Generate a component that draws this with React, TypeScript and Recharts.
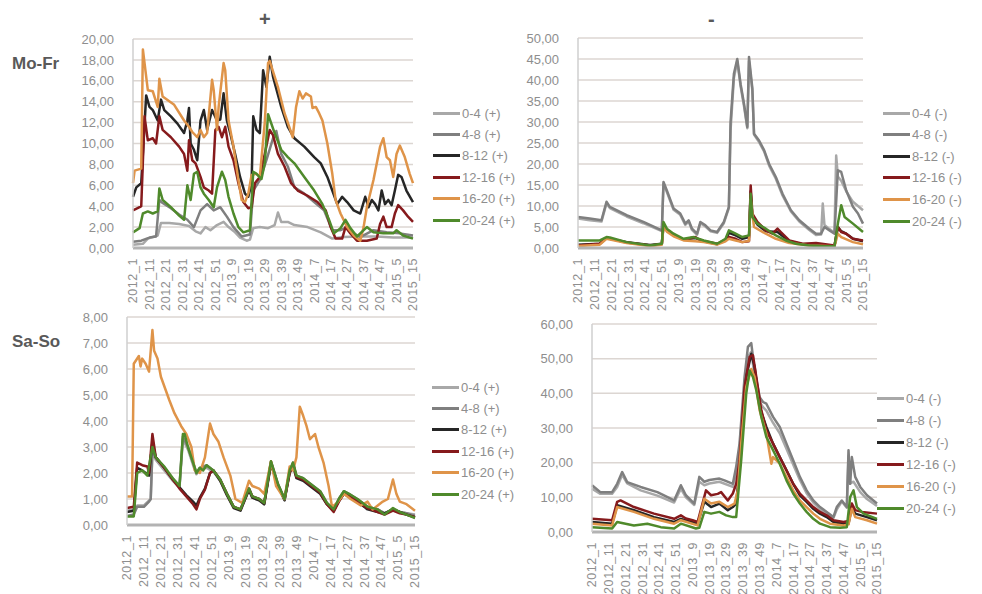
import React from 'react';
import { LineChart, Line, XAxis, YAxis, CartesianGrid } from 'recharts';

type Pt = [number, number];

// x positions are week indices 0..170 (2012_1 .. 2015_15)
const weekTicks = [0, 10, 20, 30, 40, 50, 60, 70, 80, 90, 100, 110, 120, 130, 140, 150, 160, 170];
const weekLabels = [
  '2012_1', '2012_11', '2012_21', '2012_31', '2012_41', '2012_51', '2013_9', '2013_19', '2013_29',
  '2013_39', '2013_49', '2014_7', '2014_17', '2014_27', '2014_37', '2014_47', '2015_5', '2015_15',
];
const ageGroups = ['0-4', '4-8', '8-12', '12-16', '16-20', '20-24'];
const groupColors = ['#a8a8a8', '#7f7f7f', '#262626', '#861a1c', '#df9449', '#4f8a2b'];

// Mo-Fr (+)
const moFrPlus0_4: Pt[] = [[0,0.3],[6,0.4],[9,0.9],[13,1.1],[15,1.2],[17,2.4],[22,2.4],[28,2.3],[34,2.1],[38,1.6],[41,1.4],[44,2.0],[47,1.7],[51,2.2],[55,2.5],[58,2.0],[62,1.5],[65,1.0],[69,0.7],[71,0.8],[73,1.9],[77,2.0],[82,1.9],[86,2.2],[88,3.4],[90,2.5],[94,2.5],[98,2.2],[106,2.0],[114,1.5],[121,0.9],[128,1.05],[138,1.1],[148,1.1],[158,1.0],[170,1.0]];
const moFrPlus4_8: Pt[] = [[0,0.6],[5,0.7],[10,1.0],[14,1.1],[16,4.6],[18,4.3],[23,3.8],[28,3.2],[33,2.7],[37,2.0],[41,3.6],[45,4.2],[49,3.6],[53,3.9],[57,3.0],[61,2.0],[66,1.1],[71,1.3],[73,5.5],[77,6.5],[81,8.4],[85,10.5],[87,11.2],[90,9.0],[94,7.8],[98,5.8],[104,5.2],[110,4.4],[116,3.6],[121,1.7],[126,1.7],[130,2.0],[134,1.4],[138,1.05],[146,1.7],[154,1.5],[162,1.4],[170,1.2]];
const moFrPlus8_12: Pt[] = [[0,4.9],[2,5.8],[5,6.2],[8,14.6],[10,13.5],[12,13.2],[15,12.2],[17,14.2],[19,13.2],[23,12.6],[27,11.9],[31,11.0],[33,12.2],[34,13.4],[35,10.0],[37,9.4],[39,8.4],[41,12.2],[43,13.2],[45,11.3],[48,13.2],[51,12.2],[53,12.3],[55,14.8],[57,12.2],[59,11.0],[62,9.0],[65,6.8],[68,5.2],[70,4.9],[72,6.2],[73,12.6],[75,11.3],[77,11.0],[79,17.0],[81,15.4],[83,18.3],[85,16.4],[90,13.5],[94,11.6],[98,10.5],[104,9.7],[110,8.7],[114,8.1],[118,6.8],[121,5.5],[124,4.2],[127,4.9],[130,4.4],[134,3.6],[138,3.3],[141,4.9],[143,3.9],[145,4.6],[147,4.2],[149,3.6],[151,5.5],[153,4.2],[155,4.6],[157,4.1],[159,5.5],[161,7.0],[163,6.8],[166,5.5],[170,4.4]];
const moFrPlus12_16: Pt[] = [[0,3.6],[4,3.9],[5,4.0],[7,12.6],[9,10.3],[12,10.5],[14,10.0],[16,12.6],[18,11.3],[23,10.6],[28,9.7],[31,9.0],[33,7.4],[34,10.3],[36,8.4],[38,8.1],[41,6.8],[43,5.8],[46,5.5],[48,5.2],[50,11.3],[52,11.6],[54,10.6],[56,11.6],[58,9.7],[61,8.4],[64,6.2],[67,4.4],[70,3.8],[72,3.9],[74,6.2],[77,6.8],[80,9.0],[83,11.3],[85,10.8],[88,9.0],[92,7.8],[96,6.2],[100,5.5],[106,5.0],[112,4.4],[117,3.6],[120,2.0],[123,0.9],[127,0.9],[129,2.0],[132,1.4],[136,0.7],[142,0.7],[148,0.9],[150,2.3],[152,3.0],[154,2.0],[157,2.0],[159,3.3],[161,4.1],[164,3.6],[167,3.0],[170,2.5]];
const moFrPlus16_20: Pt[] = [[0,6.2],[1,7.4],[5,7.6],[6,19.0],[9,15.1],[12,15.0],[15,13.5],[16,16.2],[18,14.5],[25,13.7],[31,12.2],[34,11.6],[36,11.1],[39,10.6],[41,11.3],[43,10.6],[45,11.0],[48,16.1],[49,15.1],[51,11.3],[52,13.5],[55,17.7],[56,17.0],[58,12.2],[61,9.7],[64,6.5],[66,4.6],[68,4.4],[70,5.2],[72,7.0],[75,7.1],[77,6.8],[80,12.0],[82,17.7],[83,17.9],[88,15.4],[92,12.9],[97,10.6],[99,13.5],[101,15.0],[103,14.3],[105,14.8],[108,14.5],[109,13.4],[111,13.5],[113,12.9],[115,12.2],[118,10.0],[121,7.1],[123,4.6],[126,3.3],[130,2.0],[134,1.2],[138,0.7],[140,2.0],[142,3.9],[146,6.5],[150,9.7],[152,10.5],[154,8.7],[156,8.4],[158,6.8],[160,9.0],[162,9.8],[165,8.7],[168,7.1],[170,6.2]];
const moFrPlus20_24: Pt[] = [[0,1.5],[4,1.9],[6,3.3],[9,3.5],[12,3.3],[15,3.5],[16,5.7],[18,4.6],[23,3.9],[28,3.1],[31,2.7],[33,6.0],[35,4.6],[37,7.1],[39,7.3],[41,5.8],[43,5.2],[46,4.6],[49,3.9],[51,5.8],[54,7.3],[56,6.5],[58,4.9],[61,3.3],[64,2.0],[67,1.5],[71,1.7],[73,7.3],[75,7.1],[78,6.6],[80,8.1],[82,12.8],[86,11.0],[90,9.4],[94,8.7],[98,8.1],[104,6.8],[110,5.5],[115,4.2],[119,2.7],[122,1.4],[126,1.9],[129,2.7],[132,1.9],[136,1.1],[142,2.0],[146,1.5],[152,1.4],[158,1.4],[160,1.7],[164,1.2],[170,0.9]];

// Mo-Fr (-)
const moFrMinus0_4: Pt[] = [[0,7.0],[7,6.6],[14,6.3],[17,10.6],[19,9.5],[29,7.5],[39,5.9],[50,4.0],[51,15.3],[53,13.3],[57,9.1],[61,7.9],[64,5.5],[66,6.3],[68,4.3],[71,3.1],[73,5.9],[76,5.1],[79,4.0],[83,3.6],[87,5.9],[90,9.5],[91,28],[93,40.5],[95,44.5],[97,38.5],[99,33.8],[101,28.5],[102,44.5],[104,37.5],[105,27],[108,25.2],[111,23],[114,19.6],[118,16.5],[122,12.5],[127,8.7],[132,6.3],[138,4.3],[142,3.1],[145,3.2],[146,10.6],[147,5.5],[150,4.5],[153,3.6],[154,22],[155,17],[157,16],[160,13.5],[164,11],[167,10],[170,9.0]];
const moFrMinus4_8: Pt[] = [[0,7.4],[7,7.0],[14,6.6],[17,11.0],[19,9.8],[29,7.8],[39,6.2],[50,4.2],[51,15.7],[53,13.7],[57,9.4],[61,8.2],[64,5.8],[66,6.6],[68,4.6],[71,3.4],[73,6.2],[76,5.4],[79,4.2],[83,3.8],[87,6.2],[90,9.8],[91,30],[93,41.5],[95,45],[97,39],[99,34.4],[101,28.8],[102,45.5],[104,38],[105,27.2],[108,25.6],[111,23.3],[114,20],[118,16.9],[122,12.9],[127,9.0],[132,6.6],[138,4.6],[142,3.4],[145,3.4],[147,5.0],[150,4.2],[153,3.4],[155,18.5],[157,18.1],[160,13.7],[164,9.8],[167,8.2],[170,5.8]];
const moFrMinus8_12: Pt[] = [[0,0.8],[13,1.0],[17,2.4],[29,1.4],[43,0.7],[50,1.0],[51,5.5],[53,4.2],[57,3.2],[63,2.0],[70,2.4],[75,1.6],[83,0.9],[88,1.9],[90,3.6],[94,3.0],[98,2.2],[102,2.6],[103,13.5],[104,7.4],[107,5.6],[112,4.0],[119,3.8],[126,1.6],[134,0.9],[142,0.8],[153,0.5],[155,5.0],[157,4.0],[160,3.4],[164,2.2],[170,1.6]];
const moFrMinus12_16: Pt[] = [[0,0.6],[13,1.0],[17,2.4],[29,1.3],[43,0.6],[50,0.9],[51,5.6],[53,4.3],[57,3.2],[63,2.0],[70,2.6],[72,2.0],[75,1.7],[83,1.0],[88,2.0],[90,2.6],[94,2.2],[98,1.4],[102,1.6],[103,14.9],[104,8.2],[107,6.2],[112,4.2],[116,3.4],[119,4.6],[121,3.8],[126,1.8],[134,1.0],[142,1.2],[153,0.6],[155,5.0],[157,3.8],[160,3.4],[164,2.2],[170,1.8]];
const moFrMinus16_20: Pt[] = [[0,0.5],[13,0.8],[17,2.2],[29,1.2],[43,0.5],[50,0.8],[51,5.0],[53,3.9],[57,2.8],[63,1.8],[70,1.6],[75,1.4],[83,0.8],[88,1.6],[90,2.2],[94,1.8],[98,1.4],[102,1.7],[103,11.5],[105,5.0],[112,3.4],[118,2.2],[126,1.2],[138,0.6],[153,0.4],[155,3.4],[157,2.6],[164,1.4],[170,0.9]];
const moFrMinus20_24: Pt[] = [[0,1.8],[13,1.8],[17,2.6],[19,2.5],[29,1.4],[43,0.6],[50,1.0],[51,6.2],[53,4.6],[57,3.4],[63,2.2],[69,2.6],[75,1.8],[83,1.0],[88,2.2],[90,4.2],[94,3.4],[98,2.6],[102,3.0],[103,12.9],[104,7.4],[107,5.8],[112,4.6],[118,3.0],[124,1.8],[130,1.0],[138,0.6],[146,0.4],[153,0.4],[155,5.8],[157,10.2],[159,7.4],[164,5.8],[170,3.8]];

// Sa-So (+)
const saSoPlus0_4: Pt[] = [[0,0.55],[4,0.6],[6,0.75],[10,0.75],[14,1.0],[15,2.8],[17,2.5],[22,2.1],[27,1.7],[31,1.45],[33,3.3],[36,2.9],[39,2.3],[41,1.95],[43,2.15],[47,2.2],[51,2.05],[55,1.7],[59,1.15],[63,0.7],[67,0.6],[72,1.35],[74,1.05],[78,0.95],[81,0.8],[85,2.4],[89,1.55],[93,0.95],[96,2.05],[98,2.35],[100,1.85],[104,1.75],[108,1.55],[114,1.25],[118,0.8],[122,0.6],[125,0.95],[128,1.25],[131,1.15],[136,0.95],[142,0.7],[148,0.6],[152,0.45],[157,0.6],[161,0.5],[165,0.45],[170,0.4]];
const saSoPlus4_8: Pt[] = [[0,0.35],[4,0.4],[6,0.7],[10,0.7],[13,0.9],[14,1.0],[15,2.9],[17,2.6],[22,2.2],[27,1.8],[31,1.5],[33,3.4],[36,3.0],[39,2.4],[41,2.0],[43,2.2],[47,2.3],[51,2.1],[55,1.75],[59,1.2],[63,0.7],[67,0.6],[72,1.4],[74,1.1],[78,1.0],[81,0.85],[85,2.45],[89,1.6],[93,1.0],[96,2.1],[98,2.4],[100,1.9],[104,1.8],[108,1.6],[114,1.3],[118,0.85],[122,0.6],[125,1.0],[128,1.3],[131,1.2],[136,1.0],[142,0.7],[148,0.6],[152,0.45],[157,0.6],[161,0.5],[165,0.45],[170,0.35]];
const saSoPlus8_12: Pt[] = [[0,0.5],[4,0.55],[6,2.2],[9,2.1],[13,1.9],[15,3.2],[17,2.6],[22,2.2],[27,1.75],[31,1.45],[35,1.15],[39,0.9],[41,0.75],[43,1.05],[46,1.4],[49,2.0],[51,2.1],[55,1.7],[59,1.15],[63,0.65],[67,0.55],[72,1.35],[74,1.05],[78,0.95],[81,0.8],[85,2.35],[89,1.5],[93,0.95],[96,2.0],[98,2.3],[100,1.8],[104,1.7],[108,1.5],[114,1.2],[118,0.8],[122,0.55],[125,0.9],[128,1.2],[131,1.1],[136,0.9],[142,0.6],[148,0.5],[152,0.45],[157,0.6],[161,0.5],[165,0.4],[170,0.3]];
const saSoPlus12_16: Pt[] = [[0,0.65],[4,0.7],[6,2.4],[9,2.3],[12,2.25],[13,2.0],[15,3.5],[17,2.6],[22,2.2],[27,1.75],[31,1.4],[35,1.1],[39,0.8],[41,0.6],[43,1.0],[46,1.36],[49,2.0],[51,2.1],[55,1.75],[59,1.2],[63,0.7],[67,0.6],[72,1.4],[74,1.1],[78,1.0],[81,0.85],[85,2.4],[89,1.55],[93,1.0],[96,2.0],[98,2.35],[100,1.85],[104,1.75],[108,1.55],[114,1.25],[118,0.8],[122,0.5],[125,0.9],[128,1.2],[131,1.1],[136,0.9],[142,0.65],[148,0.5],[152,0.4],[157,0.55],[161,0.45],[165,0.4],[170,0.3]];
const saSoPlus16_20: Pt[] = [[0,1.1],[3,1.1],[4,6.2],[7,6.5],[8,6.1],[9,6.4],[11,6.2],[13,5.9],[15,7.5],[16,6.7],[18,6.4],[20,5.7],[25,4.8],[28,4.3],[32,3.8],[35,3.5],[38,3.0],[40,2.1],[43,2.0],[46,2.6],[49,3.9],[51,3.5],[54,3.2],[57,2.6],[61,1.9],[64,1.0],[68,0.85],[72,1.7],[74,1.5],[78,1.4],[81,1.2],[85,2.45],[88,1.5],[93,1.0],[96,2.25],[98,2.1],[100,2.6],[102,4.55],[104,4.2],[106,3.8],[108,3.3],[111,3.5],[113,3.0],[116,2.4],[119,1.5],[121,0.7],[124,0.85],[128,1.2],[132,1.0],[138,0.75],[142,0.9],[145,0.6],[148,0.75],[151,0.9],[154,1.0],[157,1.75],[159,1.2],[161,0.9],[165,0.8],[170,0.55]];
const saSoPlus20_24: Pt[] = [[0,0.33],[4,0.33],[6,2.0],[9,2.1],[12,1.9],[15,3.0],[17,2.6],[22,2.25],[27,1.8],[31,1.5],[33,3.5],[34,3.5],[36,3.0],[39,2.4],[41,2.0],[43,2.2],[45,2.1],[47,2.3],[51,2.1],[55,1.75],[59,1.2],[63,0.7],[67,0.6],[72,1.4],[74,1.1],[78,1.0],[81,0.85],[85,2.45],[89,1.6],[93,1.0],[96,2.1],[98,2.4],[100,1.9],[104,1.8],[108,1.6],[114,1.3],[118,0.85],[122,0.6],[125,1.0],[128,1.3],[131,1.2],[136,1.0],[142,0.7],[148,0.6],[152,0.4],[157,0.65],[161,0.5],[165,0.4],[170,0.27]];

// Sa-So (-)
const saSoMinus0_4: Pt[] = [[0,12.5],[5,11.0],[12,11.0],[15,13.0],[18,16.5],[21,14.0],[29,12.0],[39,10.5],[49,8.5],[53,12.5],[56,10.0],[61,7.8],[64,14.5],[67,13.5],[70,14.0],[76,14.5],[84,13.0],[86,17.5],[88,24],[91,42],[93,50.5],[95,52],[97,45],[100,37.5],[102,36],[104,35],[108,31.5],[112,28.5],[116,24],[120,19.5],[124,15],[128,11.2],[132,8.5],[136,6.6],[140,5.3],[144,4.0],[146,6.5],[149,8.8],[152,7.0],[153,22],[154,14],[156,14.5],[160,11.5],[164,9.5],[170,7.5]];
const saSoMinus4_8: Pt[] = [[0,13.5],[5,11.5],[12,11.5],[15,13.9],[18,17.3],[21,14.4],[29,13.0],[39,11.5],[49,9.1],[53,13.5],[56,10.6],[61,8.2],[64,15.9],[67,14.5],[70,15.0],[76,15.4],[79,14.9],[84,13.9],[86,18.8],[88,25.5],[91,44.7],[93,53.4],[95,54.5],[97,46.6],[100,38.9],[102,37.5],[104,37.0],[108,33.2],[112,30.3],[116,25.5],[120,20.7],[124,15.9],[128,12.0],[132,9.1],[136,7.2],[140,5.8],[144,4.3],[146,7.2],[149,9.1],[152,7.2],[153,23.6],[154,13.9],[155,21.6],[157,15.9],[160,13.0],[164,10.6],[170,8.2]];
const saSoMinus8_12: Pt[] = [[0,2.9],[12,2.4],[15,7.7],[25,6.3],[37,4.3],[49,2.9],[53,3.8],[63,2.4],[67,8.7],[71,7.2],[76,8.2],[81,6.3],[84,7.2],[86,8.2],[89,23.6],[92,44.7],[95,51.4],[97,47.6],[100,36.0],[104,30.3],[108,25.5],[112,21.6],[116,17.8],[120,13.9],[124,10.6],[128,8.7],[132,6.7],[136,5.3],[140,4.3],[144,2.9],[150,2.4],[153,2.4],[155,7.2],[157,5.3],[164,4.3],[170,3.4]];
const saSoMinus12_16: Pt[] = [[0,3.8],[12,3.4],[15,8.7],[17,9.1],[25,7.2],[37,5.3],[49,3.8],[53,4.8],[56,3.9],[60,3.4],[63,2.9],[68,12.0],[71,10.6],[75,11.0],[77,11.5],[81,9.1],[84,11.1],[86,13.9],[88,20.7],[91,41.8],[94,50.5],[96,51.0],[98,44.7],[101,35.1],[104,29.3],[108,25.5],[112,21.6],[116,17.8],[120,13.9],[124,11.1],[128,9.1],[132,7.2],[136,5.8],[140,4.8],[144,3.4],[150,2.9],[153,3.2],[155,8.2],[157,6.3],[161,5.8],[170,5.3]];
const saSoMinus16_20: Pt[] = [[0,2.4],[12,1.9],[15,7.2],[25,5.8],[37,3.8],[49,2.4],[53,3.4],[63,1.9],[67,9.6],[71,8.2],[76,8.7],[81,7.2],[85,8.2],[87,12.0],[89,25.5],[92,41.8],[95,47.0],[97,44.7],[100,35.1],[104,28.4],[107,19.7],[108,21.6],[112,19.7],[116,15.9],[120,12.0],[124,9.1],[128,7.2],[132,5.3],[136,3.8],[142,2.4],[150,1.9],[153,2.2],[155,6.7],[157,4.3],[164,3.4],[170,2.4]];
const saSoMinus20_24: Pt[] = [[0,1.4],[12,1.0],[15,2.9],[25,1.9],[33,2.4],[41,1.4],[49,1.0],[53,2.4],[62,1.0],[64,1.2],[67,5.8],[71,5.3],[76,5.8],[80,4.8],[84,4.3],[86,4.3],[89,20.7],[92,39.9],[94,46.6],[96,44.7],[98,40.9],[101,33.2],[104,27.4],[108,23.6],[112,19.7],[116,14.9],[120,11.1],[124,8.2],[128,5.8],[132,3.8],[136,2.4],[142,1.4],[148,1.25],[152,1.4],[154,10.1],[156,12.0],[158,7.2],[162,5.3],[170,3.8]];

const FONT = '"Liberation Sans", Arial, sans-serif';
const TICK_COLOR = '#8e8e8e';

const fmt = (v: number) => v.toFixed(2).replace('.', ',');

function WeekTick(props: any) {
  const { x, y, payload } = props;
  const i = weekTicks.indexOf(payload.value);
  return (
    <g transform={`translate(${x},${y})`}>
      <text
        transform="rotate(-90)"
        x={-8}
        dy="0.35em"
        textAnchor="end"
        fill={TICK_COLOR}
        fontSize={12.5}
        letterSpacing={0.6}
        fontFamily={FONT}
      >
        {weekLabels[i]}
      </text>
    </g>
  );
}

interface PanelProps {
  left: number;
  top: number;
  width: number;
  height: number;
  margin: { top: number; right: number; bottom: number; left: number };
  yAxisWidth: number;
  xAxisHeight: number;
  yTicks: number[];
  series: Pt[][];
}

function Panel({ left, top, width, height, margin, yAxisWidth, xAxisHeight, yTicks, series }: PanelProps) {
  return (
    <div style={{ position: 'absolute', left, top }}>
      <LineChart width={width} height={height} margin={margin}>
        <CartesianGrid vertical={false} stroke="#dcd6d2" strokeWidth={1.5} />
        <XAxis
          type="number"
          dataKey="x"
          domain={[0, 170]}
          ticks={weekTicks}
          interval={0}
          height={xAxisHeight}
          tick={<WeekTick />}
          tickLine={false}
          tickSize={0}
          axisLine={{ stroke: '#b3b3b3', strokeWidth: 3 }}
        />
        <YAxis
          type="number"
          domain={[0, yTicks[yTicks.length - 1]]}
          ticks={yTicks}
          interval={0}
          width={yAxisWidth}
          tickFormatter={fmt}
          tickLine={false}
          tickSize={0}
          tickMargin={19}
          axisLine={{ stroke: '#cfcfcf', strokeWidth: 1.5 }}
          tick={{ fill: TICK_COLOR, fontSize: 13, fontFamily: FONT }}
        />
        {series.map((s, i) => (
          <Line
            key={ageGroups[i]}
            data={s.map(([x, v]) => ({ x, v }))}
            dataKey="v"
            type="linear"
            stroke={groupColors[i]}
            strokeWidth={2.5}
            strokeLinejoin="round"
            dot={false}
            isAnimationActive={false}
          />
        ))}
      </LineChart>
    </div>
  );
}

function SideLegend({ left, top, step, sign }: { left: number; top: number; step: number; sign: string }) {
  return (
    <div style={{ position: 'absolute', left, top, fontFamily: FONT, fontSize: 13, color: TICK_COLOR }}>
      {ageGroups.map((g, i) => (
        <div key={g} style={{ position: 'absolute', top: i * step - 8, left: 0, height: 16, display: 'flex', alignItems: 'center', whiteSpace: 'nowrap' }}>
          <div style={{ width: 27, height: 3, background: groupColors[i], marginRight: 2 }} />
          <span>{`${g} (${sign})`}</span>
        </div>
      ))}
    </div>
  );
}

export default function App() {
  const title = { position: 'absolute' as const, fontFamily: FONT, fontWeight: 700, color: '#595959' };
  return (
    <div style={{ position: 'absolute', left: 0, top: 0, width: 982, height: 594, background: '#fff', overflow: 'hidden' }}>
      <div style={{ ...title, left: 259, top: 8, fontSize: 20 }}>+</div>
      <div style={{ ...title, left: 708, top: 8, fontSize: 20 }}>-</div>
      <div style={{ ...title, left: 12, top: 54, fontSize: 17 }}>Mo-Fr</div>
      <div style={{ ...title, left: 12, top: 332, fontSize: 17 }}>Sa-So</div>

      <Panel
        left={60} top={29} width={365} height={290}
        margin={{ top: 10, right: 12, bottom: 7, left: 0 }}
        yAxisWidth={73} xAxisHeight={64}
        yTicks={[0, 2, 4, 6, 8, 10, 12, 14, 16, 18, 20]}
        series={[moFrPlus0_4, moFrPlus4_8, moFrPlus8_12, moFrPlus12_16, moFrPlus16_20, moFrPlus20_24]}
      />
      <Panel
        left={510} top={28} width={365} height={290}
        margin={{ top: 10, right: 12, bottom: 6, left: 0 }}
        yAxisWidth={68} xAxisHeight={64}
        yTicks={[0, 5, 10, 15, 20, 25, 30, 35, 40, 45, 50]}
        series={[moFrMinus0_4, moFrMinus4_8, moFrMinus8_12, moFrMinus12_16, moFrMinus16_20, moFrMinus20_24]}
      />
      <Panel
        left={60} top={307} width={365} height={287}
        margin={{ top: 10, right: 10, bottom: 5, left: 0 }}
        yAxisWidth={67} xAxisHeight={64}
        yTicks={[0, 1, 2, 3, 4, 5, 6, 7, 8]}
        series={[saSoPlus0_4, saSoPlus4_8, saSoPlus8_12, saSoPlus12_16, saSoPlus16_20, saSoPlus20_24]}
      />
      <Panel
        left={520} top={314} width={370} height={280}
        margin={{ top: 10, right: 13, bottom: 2, left: 0 }}
        yAxisWidth={72} xAxisHeight={60}
        yTicks={[0, 10, 20, 30, 40, 50, 60]}
        series={[saSoMinus0_4, saSoMinus4_8, saSoMinus8_12, saSoMinus12_16, saSoMinus16_20, saSoMinus20_24]}
      />

      <SideLegend left={433} top={113} step={21.4} sign="+" />
      <SideLegend left={883} top={113} step={21.6} sign="-" />
      <SideLegend left={432} top={387} step={21.4} sign="+" />
      <SideLegend left={877} top={398} step={22} sign="-" />
    </div>
  );
}
